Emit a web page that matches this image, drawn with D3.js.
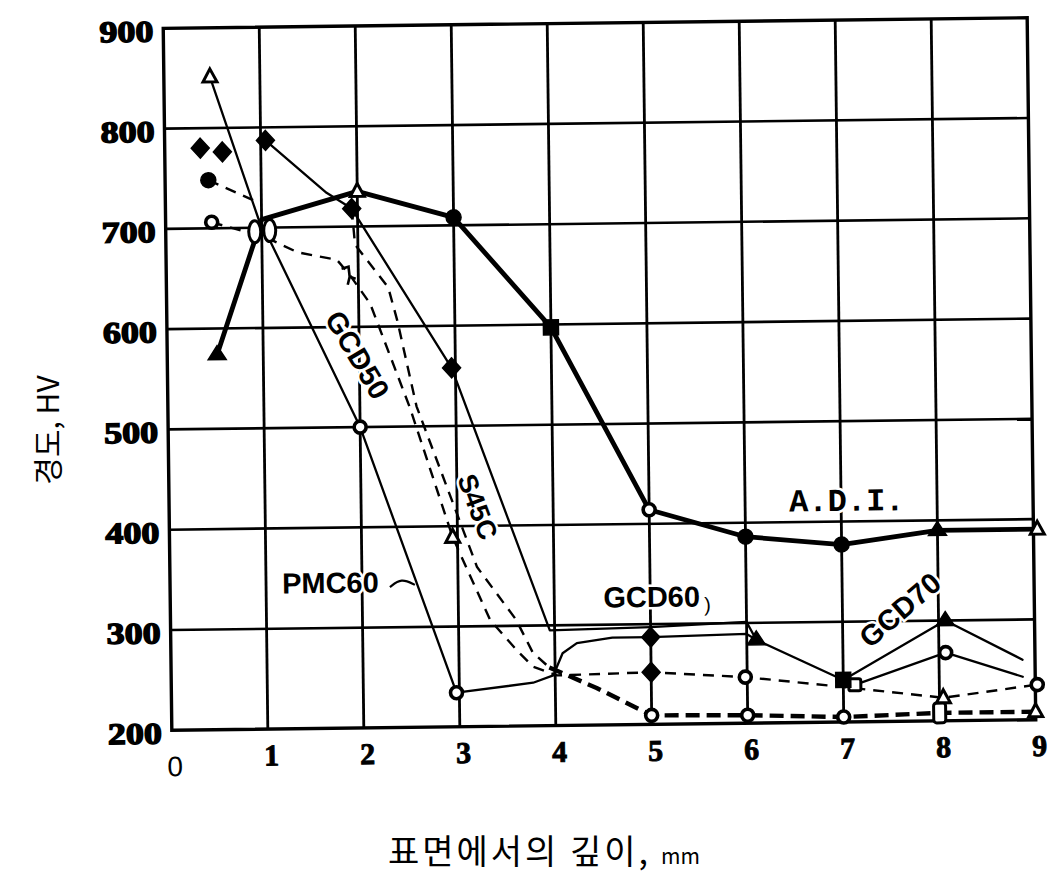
<!DOCTYPE html>
<html>
<head>
<meta charset="utf-8">
<script src="https://cdn.jsdelivr.net/npm/d3@7/dist/d3.min.js"></script>
<style>
  body { margin: 0; background: #fff; }
  svg { display: block; }
</style>
</head>
<body>
<svg id="chart" width="1056" height="873"></svg>
<script>
// Axis ticks: depth from the surface (mm) and Vickers hardness (HV)
const xTicks = [0, 1, 2, 3, 4, 5, 6, 7, 8, 9];
const yTicks = [200, 300, 400, 500, 600, 700, 800, 900];

// A.D.I. (austempered ductile iron)
const adiDepth = [0.52, 1, 2, 3, 4, 5, 6, 7, 8, 9.04];
const adiHV    = [574, 708, 735, 708, 597, 414, 386, 377, 390, 390];
const adiMarks = ["triF", "ovals", "triO", "circF", "sqF", "circO", "circF", "circF", "triF", "triO"];

// PMC60 / GCD50 solid curve, continuing through the GCD60 and GCD70 region
const pmcDepth = [0.48, 0.97, 1.07, 2, 2.97, 3.77, 3.98, 4.08, 4.23, 4.6, 5, 6, 6.1, 7, 8.07, 8.87];
const pmcHV    = [851, 708, 690, 500, 234, 243, 250, 272, 282, 287, 287, 289, 283, 242, 300, 260];
const pmcMarks = ["triO", null, null, "circO", "circO", null, null, null, null, null, "diaF", null, "triF", "sqF", "triF", null];

// S45C solid curve, running on as the upper GCD60 line
const s45Depth = [1.05, 1.68, 1.94, 2.96, 3.95, 5, 6, 6.1];
const s45HV    = [787, 734, 718, 558, 295, 297, 301, 283];
const s45Marks = ["diaF", null, "diaF", "diaF", null, null, null, null];

// GCD70 lower solid curve
const gcd70Depth = [7.12, 8.07, 8.87];
const gcd70HV    = [237, 268, 243];
const gcd70Marks = ["sqO", "circO", null];

// dashed curve from the 1 mm point down to the ~240 HV core
const dashLDepth = [1.05, 1.37, 1.78, 1.91, 2.12, 2.52, 2.95, 3.33, 3.6, 3.77, 4.02, 5, 5.98, 7, 8.04, 9.02];
const dashLHV    = [690, 675, 667, 652, 623, 519, 389, 306, 276, 259, 250, 252, 246, 235, 223, 235];
const dashLMarks = [null, null, null, "hook", null, null, "triO", null, null, null, null, "diaF", "circO", null, "triO", "circO"];

// second dashed curve (S45C)
const dashRDepth = [1.94, 1.97, 2.31, 2.4, 2.59, 3.2, 3.6, 3.77, 3.94];
const dashRHV    = [718, 682, 639, 606, 520, 359, 306, 273, 258];

// heavy dashed core line near 200 HV
const coreDepth = [3.94, 4.43, 5, 6, 7, 8, 9];
const coreHV    = [258, 237, 209, 208, 205, 208, 208];
const coreMarks = [null, null, "circO", "circO", "circO", "rectO", "triO"];

// short dashed starts near the surface
const shortADepth = [0.45, 0.95];
const shortAHV    = [748, 726];
const shortAMarks = ["circF", null];
const shortBDepth = [0.48, 0.8];
const shortBHV    = [706, 697];
const shortBMarks = ["circO", null];

// surface points plotted without a line
const looseDepth = [0.37, 0.6];
const looseHV    = [780, 776];
const looseMarks = ["diaF", "diaF"];

// curve labels: [text, depth, HV, angle]
const curveLabels = [
  ["GCD50", 1.98, 572, 60],
  ["S45C", 3.21, 419, 70],
  ["PMC60", 1.67, 345, 0],
  ["GCD60", 5.07, 327, 0],
  ["GCD70", 7.6, 311, -40]
];
const adiLabel = ["A.D.I.", 7.06, 419];
const pmcLeaderDepth = [2.29, 2.41, 2.55];
const pmcLeaderHV    = [340, 349, 342];

const yTitle = "경도, HV";
const xTitle = "표면에서의 깊이,";
const xUnit = "mm";

// ------------------------------------------------------------------
const svg = d3.select("#chart");

const x = d3.scaleLinear().domain([0, 9]).range([167.5, 1031.5]);
const y = d3.scaleLinear().domain([200, 900]).range([725, 23]);

// the drawn sheet sits slightly askew
const plot = svg.append("g").attr("transform", "rotate(-0.7, 600, 374)");

// grid
const grid = plot.append("g").attr("stroke", "#000").attr("fill", "none");
grid.selectAll("line.v").data(xTicks.slice(1, -1)).join("line")
  .attr("x1", d => x(d)).attr("x2", d => x(d))
  .attr("y1", y(900)).attr("y2", y(200))
  .attr("stroke-width", 2.8);
grid.selectAll("line.h").data(yTicks.slice(1, -1)).join("line")
  .attr("x1", x(0)).attr("x2", x(9))
  .attr("y1", d => y(d)).attr("y2", d => y(d))
  .attr("stroke-width", 2.6);
grid.append("rect")
  .attr("x", x(0)).attr("y", y(900))
  .attr("width", x(9) - x(0)).attr("height", y(200) - y(900))
  .attr("stroke-width", 3.4);

// tick labels through D3 axes
const yAxis = plot.append("g")
  .attr("transform", `translate(${x(0) - 10},3)`)
  .call(d3.axisLeft(y).tickValues(yTicks).tickSize(0).tickPadding(0));
yAxis.select(".domain").remove();
yAxis.selectAll("text")
  .attr("font-family", "'Liberation Serif', serif")
  .attr("font-weight", "bold")
  .attr("font-size", 30)
  .attr("fill", "#000")
  .attr("stroke", "#000").attr("stroke-width", 1.4)
  .attr("textLength", 54).attr("lengthAdjust", "spacingAndGlyphs");

const xAxis = plot.append("g")
  .attr("transform", `translate(3,${y(200) + 15})`)
  .call(d3.axisBottom(x).tickValues(xTicks.slice(1)).tickSize(0).tickPadding(0));
xAxis.select(".domain").remove();
xAxis.selectAll("text")
  .attr("font-family", "'Liberation Serif', serif")
  .attr("font-weight", "bold")
  .attr("font-size", 30)
  .attr("fill", "#000")
  .attr("stroke", "#000").attr("stroke-width", 0.9);
plot.append("text")
  .attr("x", x(xTicks[0]) + 3).attr("y", y(200) + 46)
  .attr("text-anchor", "middle")
  .attr("font-family", "'Liberation Sans', sans-serif")
  .attr("font-size", 28)
  .text(xTicks[0]);

// line styles
const styles = {
  thick:  { w: 4.8, dash: null },
  thin:   { w: 2.3, dash: null },
  dashed: { w: 2.4, dash: "11,8" },
  heavy:  { w: 4.4, dash: "14,7" },
  none:   { w: 0,   dash: null }
};

const series = [
  { depth: coreDepth,   hv: coreHV,   marks: coreMarks,   style: "heavy" },
  { depth: dashRDepth,  hv: dashRHV,  marks: null,        style: "dashed" },
  { depth: dashLDepth,  hv: dashLHV,  marks: dashLMarks,  style: "dashed" },
  { depth: shortADepth, hv: shortAHV, marks: shortAMarks, style: "dashed" },
  { depth: shortBDepth, hv: shortBHV, marks: shortBMarks, style: "dashed" },
  { depth: gcd70Depth,  hv: gcd70HV,  marks: gcd70Marks,  style: "thin" },
  { depth: s45Depth,    hv: s45HV,    marks: s45Marks,    style: "thin" },
  { depth: pmcDepth,    hv: pmcHV,    marks: pmcMarks,    style: "thin" },
  { depth: adiDepth,    hv: adiHV,    marks: adiMarks,    style: "thick" },
  { depth: looseDepth,  hv: looseHV,  marks: looseMarks,  style: "none" }
];

const line = d3.line().x(d => x(d[0])).y(d => y(d[1]));
const lines = plot.append("g").attr("fill", "none").attr("stroke", "#000")
  .attr("stroke-linejoin", "round");
series.forEach(s => {
  const st = styles[s.style];
  if (!st.w) return;
  const pts = s.depth.map((d, i) => [d, s.hv[i]]);
  lines.append("path")
    .attr("d", line(pts))
    .attr("stroke-width", st.w)
    .attr("stroke-dasharray", st.dash)
    .attr("stroke-linecap", st.dash ? "butt" : "round");
});

// marker glyphs
const markLayer = plot.append("g");
function drawMark(type, cx, cy) {
  const g = markLayer.append("g").attr("transform", `translate(${cx},${cy})`);
  const open = { fill: "#fff", stroke: "#000", "stroke-width": 3 };
  const filled = { fill: "#000", stroke: "#000", "stroke-width": 1.5 };
  const apply = (el, a) => { Object.entries(a).forEach(([k, v]) => el.attr(k, v)); return el; };
  switch (type) {
    case "triO": apply(g.append("path").attr("d", "M0,-8L7,5L-7,5Z"), open); break;
    case "triF": apply(g.append("path").attr("d", "M0,-9L9,5L-9,5Z"), filled); break;
    case "circO": apply(g.append("circle").attr("r", 6), open).attr("stroke-width", 3.6); break;
    case "circF": apply(g.append("circle").attr("r", 7.5), filled); break;
    case "diaF": apply(g.append("path").attr("d", "M0,-10L9,0L0,10L-9,0Z"), filled); break;
    case "sqF": apply(g.append("rect").attr("x", -7.5).attr("y", -7.5).attr("width", 15).attr("height", 15), filled); break;
    case "sqO": apply(g.append("rect").attr("x", -6).attr("y", -6).attr("width", 12).attr("height", 12).attr("rx", 2), open); break;
    case "rectO": apply(g.append("rect").attr("x", -6).attr("y", -10).attr("width", 12).attr("height", 20).attr("rx", 3), open); break;
    case "ovals":
      apply(g.append("ellipse").attr("cx", -7).attr("cy", 12).attr("rx", 6).attr("ry", 11), open);
      apply(g.append("ellipse").attr("cx", 8).attr("cy", 11).attr("rx", 6).attr("ry", 11), open);
      break;
    case "hook":
      g.append("path").attr("d", "M-8,-6L-1,-8L0,2L6,4M0,2L-2,10")
        .attr("fill", "none").attr("stroke", "#000").attr("stroke-width", 2.6);
      break;
  }
}
series.forEach(s => {
  if (!s.marks) return;
  s.depth.forEach((d, i) => { if (s.marks[i]) drawMark(s.marks[i], x(d), y(s.hv[i])); });
});

// leader from the PMC60 label
plot.append("path")
  .attr("d", d3.line().curve(d3.curveBasis).x(d => x(d[0])).y(d => y(d[1]))(
    pmcLeaderDepth.map((d, i) => [d, pmcLeaderHV[i]])))
  .attr("fill", "none").attr("stroke", "#000").attr("stroke-width", 2.2);

// curve labels
const labelLayer = plot.append("g")
  .attr("font-family", "'Liberation Sans', Arial, sans-serif")
  .attr("font-weight", "bold")
  .attr("fill", "#000");
curveLabels.forEach(([t, d, v, a]) => {
  const tx = labelLayer.append("text")
    .attr("transform", `translate(${x(d)},${y(v)}) rotate(${a})`)
    .attr("text-anchor", "middle")
    .attr("dominant-baseline", "central")
    .attr("font-size", t === "S45C" ? 27 : 29)
    .attr("stroke", "#fff").attr("stroke-width", 5).attr("paint-order", "stroke")
    .text(t);
  if (t === "GCD60") {
    tx.append("tspan").attr("font-size", 20).attr("font-weight", "normal").attr("dx", 4).attr("dy", 8).text(")");
  }
});
labelLayer.append("text")
  .attr("x", x(adiLabel[1])).attr("y", y(adiLabel[2]))
  .attr("text-anchor", "middle").attr("dominant-baseline", "central")
  .attr("font-family", "'Liberation Mono', 'DejaVu Sans Mono', monospace")
  .attr("font-size", 32)
  .attr("stroke", "#fff").attr("stroke-width", 5).attr("paint-order", "stroke")
  .text(adiLabel[0]);

// axis titles
svg.append("text")
  .attr("transform", "translate(46,430) rotate(-90)")
  .attr("text-anchor", "middle").attr("dominant-baseline", "central")
  .attr("font-family", "'Noto Sans CJK KR', sans-serif")
  .attr("font-size", 30)
  .attr("fill", "#000")
  .text(yTitle);

const xt = svg.append("text")
  .attr("x", 388).attr("y", 864)
  .attr("font-family", "'Noto Sans CJK KR', sans-serif")
  .attr("font-size", 34)
  .attr("letter-spacing", 3)
  .attr("fill", "#000")
  .text(xTitle);
xt.append("tspan").attr("dx", 10).attr("font-size", 21).attr("letter-spacing", 0).text(xUnit);
</script>
</body>
</html>
